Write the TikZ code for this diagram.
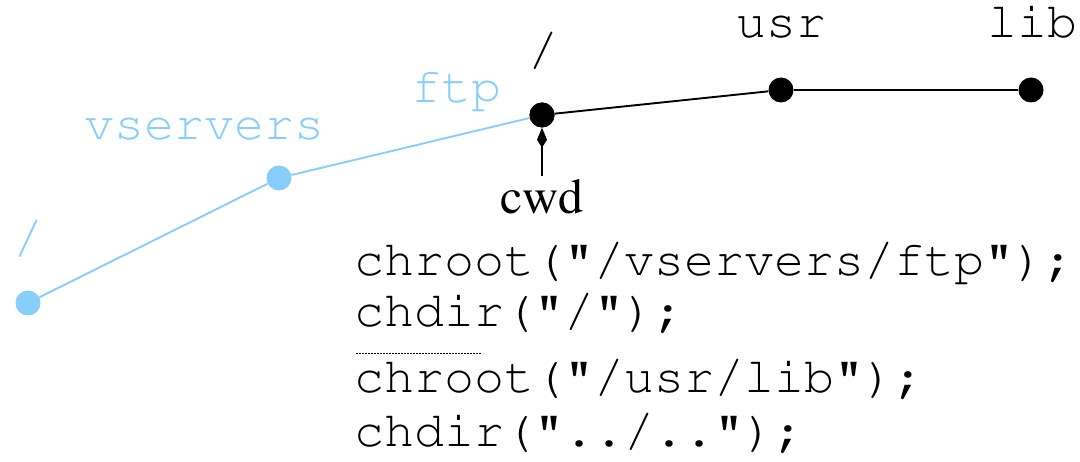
\documentclass[tikz,border=0pt]{standalone}
\usepackage[T1]{fontenc}
\renewcommand\rmdefault{ptm}
\renewcommand\ttdefault{pcr}
\usetikzlibrary{arrows.meta}
\definecolor{lblue}{RGB}{135,206,250}
\tikzset{
  dot/.style={circle,fill,inner sep=0pt,minimum size=25pt},
  bdot/.style={dot,fill=lblue},
  kdot/.style={dot,fill=black},
  lbl/.style={inner sep=0pt,anchor=base west,font=\fontsize{50}{56}\selectfont\ttfamily},
  code/.style={lbl},
  edge/.style={line width=1.9pt},
}
\begin{document}
\begin{tikzpicture}[x=1pt,y=-1pt]
\useasboundingbox (0,0) rectangle (1080,462);
% nodes
\node[bdot] (r0) at (28,303) {};
\node[bdot] (vs) at (279,178) {};
\node[kdot] (ftp) at (542,115) {};
\node[kdot] (usr) at (781,90) {};
\node[kdot] (lib) at (1031,90) {};
% edges
\draw[edge,lblue] (r0) -- (vs);
\draw[edge,lblue] (vs) -- (ftp.center);
\draw[edge] (ftp) -- (usr);
\draw[edge] (usr) -- (lib);
\node[kdot] at (ftp) {};
% labels
\node[lbl,text=lblue] (l0) at (13,254) {/};
\node[lbl,text=lblue] (lvs) at (84,140) {vservers};
\node[lbl,text=lblue] (lftp) at (411,103) {ftp};
\node[lbl] (lroot) at (528,66) {/};
\node[lbl] (lusr) at (736,38) {usr};
\node[lbl] (llib) at (987,38) {lib};
% cwd
\node[inner sep=0pt,anchor=base,font=\fontsize{50}{56}\selectfont] (cwd) at (542,214) {cwd};
\draw[line width=1.9pt,-{Kite[length=20pt,width=10pt,inset=8pt]}] (cwd.north) ++(0,-4) coordinate (cwdtop) (cwdtop) -- (ftp.south);
% code
\node[code] (c1) at (354,276) {chroot("/vservers/ftp");};
\node[code] (c2) at (354,327) {chdir("/");};
\coordinate (dsA) at (356,353);
\coordinate (dsB) at (481,353);
\draw[line width=0.8pt,dash pattern=on 2pt off 1pt] (dsA) -- (dsB);
\node[code] (c3) at (354,393) {chroot("/usr/lib");};
\node[code] (c4) at (354,447) {chdir("../..");};
\end{tikzpicture}
\end{document}
